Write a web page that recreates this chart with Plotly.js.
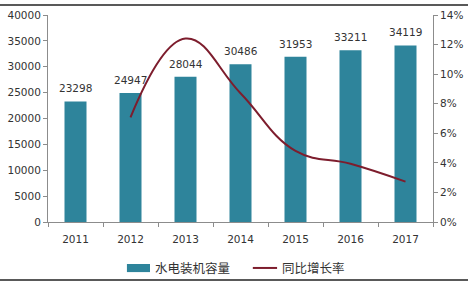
<!DOCTYPE html>
<html><head><meta charset="utf-8">
<script src="https://cdn.plot.ly/plotly-3.0.1.min.js"></script>
<style>html,body{margin:0;padding:0;background:#fff}#c{width:468px;height:283px}</style>
</head><body><div id="c"></div>
<script>
const years = ['2011','2012','2013','2014','2015','2016','2017'];
const capacity = [23298, 24947, 28044, 30486, 31953, 33211, 34119];
const growth = [null, 0.0708, 0.1241, 0.0871, 0.0481, 0.0394, 0.0273];
const barName = '水电装机容量';
const lineName = '同比增长率';

const font = {family: 'DejaVu Sans, Verdana, sans-serif', size: 10.5, color: '#333'};
const traces = [
  {type:'bar', x: years, y: capacity, name: barName, width: 0.4,
   marker:{color:'#2E849B'}, hoverinfo:'none'},
  {type:'scatter', mode:'lines', x: years, y: growth, name: lineName, yaxis:'y2',
   line:{color:'#7D1D2D', width:2, shape:'spline', smoothing:1.2}, connectgaps:false, hoverinfo:'none'}
];
const labelAnns = years.map((yr, i) => ({
  x: i, y: capacity[i], xref:'x', yref:'y', text: String(capacity[i]), showarrow:false,
  yanchor:'bottom', yshift:5, font: font
}));
const layout = {
  width:468, height:283, margin:{l:48, r:35, t:15, b:61},
  paper_bgcolor:'#fff', plot_bgcolor:'#fff', showlegend:false, font: font,
  xaxis:{type:'category', categoryorder:'array', categoryarray: years, range:[-0.5, years.length-0.5],
         showline:true, linecolor:'#8c8c8c', linewidth:1, ticks:'outside', tickson:'boundaries',
         ticklen:4, tickcolor:'#8c8c8c', showgrid:false, zeroline:false, tickfont:font, ticklabelstandoff:7},
  yaxis:{range:[0,40000], dtick:5000, showline:true, linecolor:'#8c8c8c', ticks:'outside', ticklen:4,
         tickcolor:'#8c8c8c', showgrid:false, zeroline:false, tickfont:font, tickformat:'d'},
  yaxis2:{overlaying:'y', side:'right', range:[0,0.14], dtick:0.02, tickformat:'.0%', showline:true,
          linecolor:'#8c8c8c', ticks:'outside', ticklen:4, tickcolor:'#8c8c8c', showgrid:false, zeroline:false, tickfont:font},
  shapes:[
    {type:'line', xref:'paper', yref:'paper', x0:-0.13, x1:1.1, y0:1.048, y1:1.048, line:{color:'#222', width:1.5}},
    {type:'line', xref:'paper', yref:'paper', x0:-0.13, x1:1.1, y0:-0.280, y1:-0.280, line:{color:'#222', width:1.5}},
    {type:'rect', xref:'paper', yref:'paper', x0:0.205, x1:0.265, y0:-0.242, y1:-0.203, fillcolor:'#2E849B', line:{width:0}},
    {type:'line', xref:'paper', yref:'paper', x0:0.532, x1:0.595, y0:-0.222, y1:-0.222, line:{color:'#7D1D2D', width:2}}
  ],
  annotations: labelAnns.concat([
    {xref:'paper', yref:'paper', x:0.272, y:-0.222, xanchor:'left', yanchor:'middle', text:barName, showarrow:false,
     font:{family:'Noto Sans CJK SC, sans-serif', size:12.5, color:'#333'}},
    {xref:'paper', yref:'paper', x:0.602, y:-0.222, xanchor:'left', yanchor:'middle', text:lineName, showarrow:false,
     font:{family:'Noto Sans CJK SC, sans-serif', size:12.5, color:'#333'}}
  ])
};
Plotly.newPlot('c', traces, layout, {staticPlot:true});
</script></body></html>
